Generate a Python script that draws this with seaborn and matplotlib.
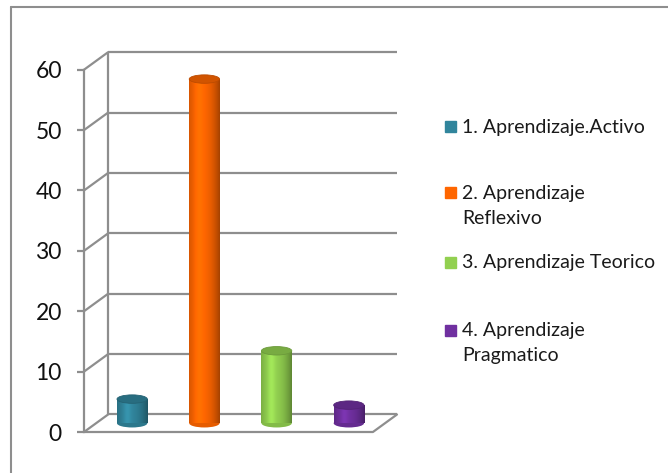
import numpy as np
import pandas as pd
import seaborn as sns
import matplotlib.pyplot as plt
from matplotlib.patches import Ellipse, Rectangle
from matplotlib.lines import Line2D

# data
categorias = ['1. Aprendizaje.Activo', '2. Aprendizaje Reflexivo',
              '3. Aprendizaje Teorico', '4. Aprendizaje Pragmatico']
etiquetas = ['1. Aprendizaje.Activo', '2. Aprendizaje\nReflexivo',
             '3. Aprendizaje Teorico', '4. Aprendizaje\nPragmatico']
valores = [4, 57, 12, 3]
colores = ['#31859C', '#FF6600', '#92D050', '#7030A0']
ticks = [0, 10, 20, 30, 40, 50, 60]

GRIS = '#8E8E8E'
DX, DY = 1 / 3, 2.9   # depth of the fake 3d box (categories, value units)
EH = 1.4              # ellipse height of the cylinders, value units

sns.set_style('white')
plt.rcParams['font.family'] = ['Lato', 'DejaVu Sans']

fig = plt.figure(figsize=(6.68, 4.73), dpi=100)
ax = fig.add_axes([84 / 668, 41 / 473, 313 / 668, 381 / 473])

df = pd.DataFrame({'cat': categorias, 'valor': valores})
sns.barplot(data=df, x='cat', y='valor', hue='cat', palette=colores,
            saturation=1, width=0.42, legend=False, ax=ax)


def _shade(color, t):
    # cylinder look: dark edges, light stripe left of centre
    rgb = np.array(plt.matplotlib.colors.to_rgb(color))
    f = 1 - 0.35 * ((t - 0.4) / 0.6) ** 2 + 0.12 * np.exp(-((t - 0.33) / 0.12) ** 2)
    return np.clip(rgb[None, :] * f[:, None], 0, 1)


t = np.linspace(0, 1, 60)
for p, col in zip(ax.patches, colores):
    p.set_x(p.get_x() + DX / 2)
    p.set_y(DY / 2)
    p.set_zorder(3)
    p.set_edgecolor('none')
    p.set_linewidth(0)
    x0, w, h = p.get_x(), p.get_width(), p.get_height()
    y0 = p.get_y()
    img = ax.imshow(_shade(col, t)[None, :, :], extent=(x0, x0 + w, y0, y0 + h),
                    aspect='auto', zorder=3.1, interpolation='bilinear')
    img.set_clip_path(p)
    base = np.array(plt.matplotlib.colors.to_rgb(col))
    # rounded bottom and darker top
    ax.add_patch(Ellipse((x0 + w / 2, y0), w, EH, facecolor=base * 0.9, edgecolor='none',
                         zorder=2.9, clip_on=False))
    top = base * 0.82
    ax.add_patch(Ellipse((x0 + w / 2, y0 + h), w, EH, facecolor=top,
                         edgecolor=top * 0.9, lw=0.6, zorder=3.5, clip_on=False))

# back wall, side wall and floor
ax.hlines([v + DY for v in ticks], -0.5 + DX, 3.5 + DX, color=GRIS, lw=1.6, zorder=1, clip_on=False)
ax.vlines(-0.5 + DX, DY, 60 + DY, color=GRIS, lw=1.6, zorder=1, clip_on=False)
for v in ticks:
    ax.plot([-0.5, -0.5 + DX], [v, v + DY], color=GRIS, lw=1.6, zorder=1, clip_on=False)
ax.plot([-0.5, 3.5, 3.5 + DX], [0, 0, DY], color=GRIS, lw=1.6, zorder=1, clip_on=False)

ax.set_xlim(-0.5, 3.5 + DX)
ax.set_ylim(0, 63.1)
for s in ['top', 'right', 'bottom']:
    ax.spines[s].set_visible(False)
ax.spines['left'].set_bounds(0, 60)
ax.spines['left'].set_color(GRIS)
ax.spines['left'].set_linewidth(1.6)
ax.set_xticks([])
ax.set_yticks(ticks)
ax.tick_params(axis='y', left=True, length=5, width=1.6, color=GRIS,
               labelsize=16.5, pad=11, labelcolor='#111111')
ax.set_xlabel('')
ax.set_ylabel('')
ax.patch.set_alpha(0)

# legend, drawn by hand so the key sits next to the first line
ley_y = [127, 193, 262, 330]
for lab, col, yy in zip(etiquetas, colores, ley_y):
    fig.add_artist(Rectangle((445 / 668, 1 - (yy + 5.5) / 473), 11 / 668, 11 / 473,
                             transform=fig.transFigure, color=col))
    for k, linea in enumerate(lab.split('\n')):
        fig.text(462 / 668, 1 - (yy + 25 * k) / 473, linea, fontsize=14,
                 va='center', ha='left', color='#1a1a1a')

# outer chart frame
fig.add_artist(Line2D([11 / 668, 11 / 668], [0, 1 - 7 / 473], transform=fig.transFigure, color=GRIS, lw=1.5))
fig.add_artist(Line2D([11 / 668, 1], [1 - 7 / 473, 1 - 7 / 473], transform=fig.transFigure, color=GRIS, lw=1.5))

fig.savefig('out.png', dpi=100)
